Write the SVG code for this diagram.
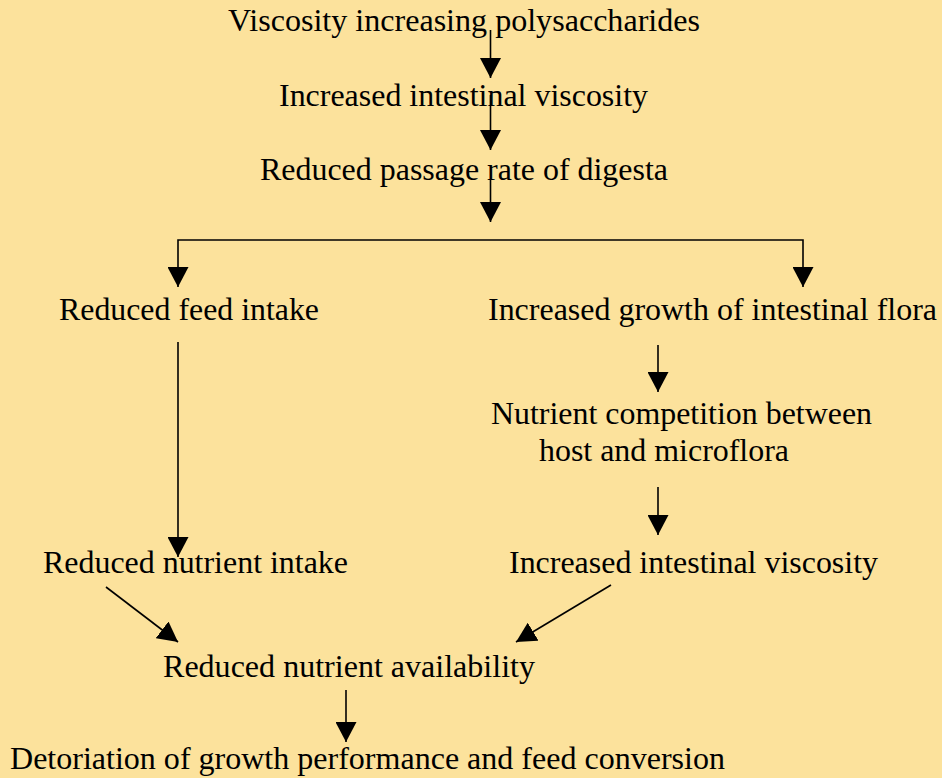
<svg xmlns="http://www.w3.org/2000/svg" width="942" height="778" viewBox="0 0 942 778">
<style>
text{font-family:"Liberation Serif","Times New Roman",serif;font-size:32px;fill:#000}
.c{stroke:#000;stroke-width:1.6;fill:none;marker-end:url(#ah)}
</style>
<defs>
<marker id="ah" markerUnits="userSpaceOnUse" markerWidth="20" markerHeight="21" viewBox="0 0 20 21" refX="20" refY="10.5" orient="auto">
<path d="M0,0 L20,10.5 L0,21 Z" fill="#000"/>
</marker>
</defs>
<rect width="942" height="778" fill="#FCE29C"/>
<g id="n1"><text x="228" y="31" textLength="472" lengthAdjust="spacingAndGlyphs">Viscosity increasing polysaccharides</text></g>
<g id="n2"><text x="279" y="106" textLength="369" lengthAdjust="spacingAndGlyphs">Increased intestinal viscosity</text></g>
<g id="n3"><text x="260" y="180" textLength="408" lengthAdjust="spacingAndGlyphs">Reduced passage rate of digesta</text></g>
<g id="n4"><text x="59" y="320" textLength="260" lengthAdjust="spacingAndGlyphs">Reduced feed intake</text></g>
<g id="n5"><text x="488" y="320" textLength="449" lengthAdjust="spacingAndGlyphs">Increased growth of intestinal flora</text></g>
<g id="n6"><text x="491" y="424" textLength="381" lengthAdjust="spacingAndGlyphs">Nutrient competition between</text><text x="539" y="461" textLength="250" lengthAdjust="spacingAndGlyphs">host and microflora</text></g>
<g id="n7"><text x="43" y="573" textLength="305" lengthAdjust="spacingAndGlyphs">Reduced nutrient intake</text></g>
<g id="n8"><text x="509" y="573" textLength="369" lengthAdjust="spacingAndGlyphs">Increased intestinal viscosity</text></g>
<g id="n9"><text x="163" y="677" textLength="372" lengthAdjust="spacingAndGlyphs">Reduced nutrient availability</text></g>
<g id="n10"><text x="10" y="769" textLength="715" lengthAdjust="spacingAndGlyphs">Detoriation of growth performance and feed conversion</text></g>
<g id="connectors">
<path class="c" d="M490.5,30 V78"/>
<path class="c" d="M490.5,95 V150"/>
<path class="c" d="M490.5,180 V222"/>
<path class="c" d="M490,240 H178 V287"/>
<path class="c" d="M490,240 H803 V287"/>
<path class="c" d="M658,345 V392"/>
<path class="c" d="M658,487 V535"/>
<path class="c" d="M178,342 V557"/>
<path class="c" d="M106,587 L178,642"/>
<path class="c" d="M611,585 L516,642"/>
<path class="c" d="M346,690 V742"/>
</g>
</svg>
